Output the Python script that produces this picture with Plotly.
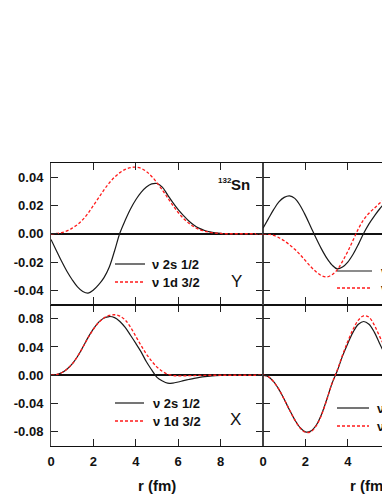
import plotly.graph_objects as go

# ---------------- data ----------------
r_left = [i * 0.25 for i in range(41)]   # 0 .. 10 fm
r_right = [i * 0.25 for i in range(25)]  # 0 .. 6 fm

# Y component, left panel (132Sn)
y_2s_left = [-0.004, -0.0118, -0.0195, -0.0265, -0.0325, -0.0375, -0.0408, -0.0420,
             -0.0398, -0.0360, -0.0310, -0.0235, -0.0120, 0.0005, 0.0095, 0.0175,
             0.0240, 0.0292, 0.0330, 0.0352, 0.0355, 0.0330, 0.0275, 0.0220,
             0.0170, 0.0128, 0.0090, 0.0060, 0.0038, 0.0023, 0.0013, 0.0007,
             0.0003, 0.0001, 0, 0, 0, 0, 0, 0, 0]
y_1d_left = [0, 0.0002, 0.0008, 0.0020, 0.0040, 0.0065, 0.0100, 0.0145,
             0.0200, 0.0255, 0.0310, 0.0360, 0.0400, 0.0432, 0.0455, 0.0468,
             0.0470, 0.0462, 0.0440, 0.0405, 0.0360, 0.0310, 0.0255, 0.0200,
             0.0150, 0.0108, 0.0074, 0.0048, 0.0030, 0.0018, 0.0010, 0.0005,
             0.0002, 0, 0, 0, 0, 0, 0, 0, 0]

# X component, left panel
x_2s_left = [0, 0.0008, 0.0035, 0.0085, 0.0160, 0.0265, 0.0395, 0.0535,
             0.0655, 0.0750, 0.0810, 0.0830, 0.0815, 0.0760, 0.0675, 0.0565,
             0.0450, 0.0330, 0.0190, 0.0075, -0.0030, -0.0080, -0.0112, -0.0110,
             -0.0095, -0.0077, -0.0060, -0.0044, -0.0030, -0.0019, -0.0011, -0.0006,
             -0.0003, -0.0001, 0, 0, 0, 0, 0, 0, 0]
x_1d_left = [0, 0.0008, 0.0035, 0.0085, 0.0160, 0.0265, 0.0395, 0.0530,
             0.0650, 0.0745, 0.0810, 0.0845, 0.0855, 0.0835, 0.0780, 0.0680,
             0.0550, 0.0420, 0.0300, 0.0200, 0.0115, 0.0055, 0.0015, -0.0003,
             -0.0008, -0.0008, -0.0006, -0.0004, -0.0002, -0.0001, 0, 0,
             0, 0, 0, 0, 0, 0, 0, 0, 0]

# Y component, right panel
y_2s_right = [0.004, 0.0105, 0.0170, 0.0225, 0.0257, 0.0268, 0.0250, 0.0200,
              0.0130, 0.0050, -0.0030, -0.0105, -0.0170, -0.0220, -0.0248, -0.0235,
              -0.0200, -0.0145, -0.0075, 0.0003, 0.0070, 0.0125, 0.0175, 0.0215, 0.0240]
y_1d_right = [0, -0.0003, -0.0012, -0.0028, -0.0050, -0.0078, -0.0110, -0.0148,
              -0.0190, -0.0232, -0.0268, -0.0295, -0.0305, -0.0290, -0.0255, -0.0195,
              -0.0125, -0.0045, 0.0035, 0.0100, 0.0145, 0.0180, 0.0215, 0.0245, 0.0265]

# X component, right panel
x_2s_right = [0, -0.0020, -0.0090, -0.0200, -0.0340, -0.0490, -0.0630, -0.0740,
              -0.0800, -0.0790, -0.0710, -0.0560, -0.0350, -0.0120, 0.0060, 0.0270,
              0.0450, 0.0610, 0.0720, 0.0760, 0.0720, 0.0610, 0.0450, 0.0300, 0.0180]
x_1d_right = [0, -0.0020, -0.0090, -0.0200, -0.0340, -0.0490, -0.0630, -0.0745,
              -0.0805, -0.0800, -0.0720, -0.0570, -0.0355, -0.0120, 0.0070, 0.0285,
              0.0480, 0.0650, 0.0780, 0.0840, 0.0820, 0.0710, 0.0550, 0.0400, 0.0270]

labels = ["\u03bd 2s 1/2", "\u03bd 1d 3/2"]
yticks_top = [-0.04, -0.02, 0.0, 0.02, 0.04]
yticks_bottom = [-0.08, -0.04, 0.0, 0.04, 0.08]
xticks = [0, 2, 4, 6, 8]

# ---------------- figure ----------------
W, H = 382, 494
ML, MR, MT, MB = 51, 0, 163, 48
PW, PH = W - ML - MR, H - MT - MB
split = 212 / PW
right_max = (W - 263) / 21.2

FONT = "Arial, Liberation Sans, sans-serif"
black = dict(color="#1a1a1a", width=1.2)
red = dict(color="#ff1a1a", width=1.3, dash="3px,2px")

fig = go.Figure()

def add_pair(r, s, d, xa, ya):
    fig.add_trace(go.Scatter(x=r, y=s, mode="lines", line=black, line_shape="spline",
                             xaxis=xa, yaxis=ya, showlegend=False, hoverinfo="skip"))
    fig.add_trace(go.Scatter(x=r, y=d, mode="lines", line=red, line_shape="spline",
                             xaxis=xa, yaxis=ya, showlegend=False, hoverinfo="skip"))

add_pair(r_left, x_2s_left, x_1d_left, "x", "y")
add_pair(r_right, x_2s_right, x_1d_right, "x2", "y2")
add_pair(r_left, y_2s_left, y_1d_left, "x3", "y3")
add_pair(r_right, y_2s_right, y_1d_right, "x4", "y4")

tickfont = dict(family=FONT, size=13, color="#111", weight="bold")

def xax(domain, anchor, rng, labels_on):
    return dict(domain=domain, anchor=anchor, range=rng, tickvals=xticks,
                showticklabels=labels_on, ticks="inside", ticklen=7, tickwidth=1.2,
                tickcolor="#222", showline=True, linecolor="#111", linewidth=1.3,
                mirror="ticks", showgrid=False, zeroline=False, tickfont=tickfont,
                ticklabelstandoff=3, fixedrange=True)

def yax(domain, anchor, rng, tv, labels_on, mirror):
    return dict(domain=domain, anchor=anchor, range=rng, tickvals=tv,
                ticktext=["%.2f" % v for v in tv], showticklabels=labels_on,
                ticks="inside", ticklen=7, tickwidth=1.2, tickcolor="#222",
                showline=True, linecolor="#444", linewidth=1, mirror=mirror,
                showgrid=False, zeroline=True, zerolinecolor="#111", zerolinewidth=1.5,
                tickfont=tickfont, ticklabelstandoff=4, fixedrange=True)

fig.update_layout(
    width=W, height=H,
    margin=dict(l=ML, r=MR, t=MT, b=MB, pad=0),
    paper_bgcolor="white", plot_bgcolor="white",
    xaxis=xax([0, split], "y", [0, 10], True),
    yaxis=yax([0, 0.5], "x", [-0.1, 0.1], yticks_bottom, True, "ticks"),
    xaxis2=xax([split, 1], "y2", [0, right_max], True),
    yaxis2=yax([0, 0.5], "x2", [-0.1, 0.1], yticks_bottom, False, False),
    xaxis3=xax([0, split], "y3", [0, 10], False),
    yaxis3=yax([0.5, 1], "x3", [-0.05, 0.05], yticks_top, True, "ticks"),
    xaxis4=xax([split, 1], "y4", [0, right_max], False),
    yaxis4=yax([0.5, 1], "x4", [-0.05, 0.05], yticks_top, False, False),
)

def px(x):
    return (x - ML) / PW

def py(y):
    return (H - MB - y) / PH

shapes = []
anns = []

def legend(x0, x1, xt, y1, y2):
    shapes.append(dict(type="line", xref="paper", yref="paper", x0=px(x0), x1=px(x1),
                       y0=py(y1), y1=py(y1), line=dict(color="#1a1a1a", width=1.2)))
    shapes.append(dict(type="line", xref="paper", yref="paper", x0=px(x0), x1=px(x1),
                       y0=py(y2), y1=py(y2), line=dict(color="#ff1a1a", width=1.3, dash="3px,2px")))
    for t, yy in zip(labels, (y1, y2)):
        anns.append(dict(text=t, xref="paper", yref="paper", x=px(xt), y=py(yy),
                         xanchor="left", yanchor="middle", showarrow=False,
                         font=dict(family=FONT, size=13, color="#111", weight="bold")))

legend(115, 145, 150, 264, 282)
legend(115, 144, 151, 403, 421)
legend(337, 372, 379, 271, 288)
legend(337, 369, 375, 408, 426)

def text(t, x, y, size, bold=True):
    anns.append(dict(text=t, xref="paper", yref="paper", x=px(x), y=py(y),
                     xanchor="center", yanchor="middle", showarrow=False,
                     font=dict(family=FONT, size=size, color="#111",
                               weight="bold" if bold else "normal")))

text("Y", 236, 281, 17, bold=False)
text("X", 235, 419, 17, bold=False)
text("132", 225, 180, 8)
text("Sn", 240, 184, 15)
text("r (fm)", 157, 485, 15)
text("r (fm)", 369, 485, 15)

fig.update_layout(shapes=shapes, annotations=anns)

fig.write_html("out.html", config={"displayModeBar": False},
               post_script="document.body.style.margin='0px';document.body.style.overflow='hidden';")
